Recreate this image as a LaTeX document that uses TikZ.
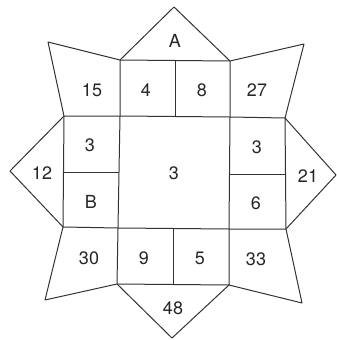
\documentclass[tikz,border=0pt]{standalone}
\usepackage{fontspec}
\setmainfont{TeX Gyre Heros}
\begin{document}
\begin{tikzpicture}[x=1pt,y=-1pt,every node/.style={inner sep=1pt,text=black!85,font=\fontsize{18}{18}\selectfont}]
\tikzstyle{edge}=[draw,black!80,line width=1pt,line join=round]
\useasboundingbox (0,0) rectangle (337,340);

% corners of the grid
\coordinate (t0) at (64,116);  \coordinate (t1) at (120,116);
\coordinate (t2) at (230,117); \coordinate (t3) at (285,118);
\coordinate (b0) at (63,227);  \coordinate (b1) at (118,228);
\coordinate (b2) at (229,229); \coordinate (b3) at (286,229);
\coordinate (u1) at (120,60);  \coordinate (u2) at (230,61);
\coordinate (d1) at (117,284); \coordinate (d2) at (229,285);

% outer points
\coordinate (pA) at (174,7);   \coordinate (p48) at (172,338);
\coordinate (p12) at (10,171); \coordinate (p21) at (336,175);
\coordinate (pTL) at (48,42);  \coordinate (pTR) at (304,44);
\coordinate (pBL) at (45,300); \coordinate (pBR) at (302,303);

% outline
\path[edge](u1)--(pA)--(u2)--(pTR)--(t3)--(p21)--(b3)--(pBR)--(d2)
  --(p48)--(d1)--(pBL)--(b0)--(p12)--(t0)--(pTL)--cycle;
\path[edge](u1)--(u2);
\path[edge](d1)--(d2);
\path[edge](t0)--(t1)--(t2)--(t3);
\path[edge](b0)--(b1)--(b2)--(b3);
\path[edge](u1)--(t1)--(b1)--(d1);
\path[edge](u2)--(t2)--(b2)--(d2);
\path[edge](t0)--(b0);
\path[edge](t3)--(b3);
\path[edge](175,60)--(175,117);
\path[edge](173,229)--(173,284);
\path[edge](63,172)--(119,172);
\path[edge](230,174)--(286,174);

% labels
\node(nA) at (175,41){A};
\node(n15) at (92,90){15};
\node(n4) at (146,90){4};
\node(n8) at (202,90){8};
\node(n27) at (257,90){27};
\node(n3a) at (90,145){3};
\node(n3b) at (174,173){3};
\node(n3c) at (257,147){3};
\node(n12) at (42,173){12};
\node(nB) at (91,202){B};
\node(n6) at (256,203){6};
\node(n21) at (308,176){21};
\node(n30) at (89,258){30};
\node(n9) at (144,258){9};
\node(n5) at (200,258){5};
\node(n33) at (256,259){33};
\node(n48) at (173,308){48};
\end{tikzpicture}
\end{document}
